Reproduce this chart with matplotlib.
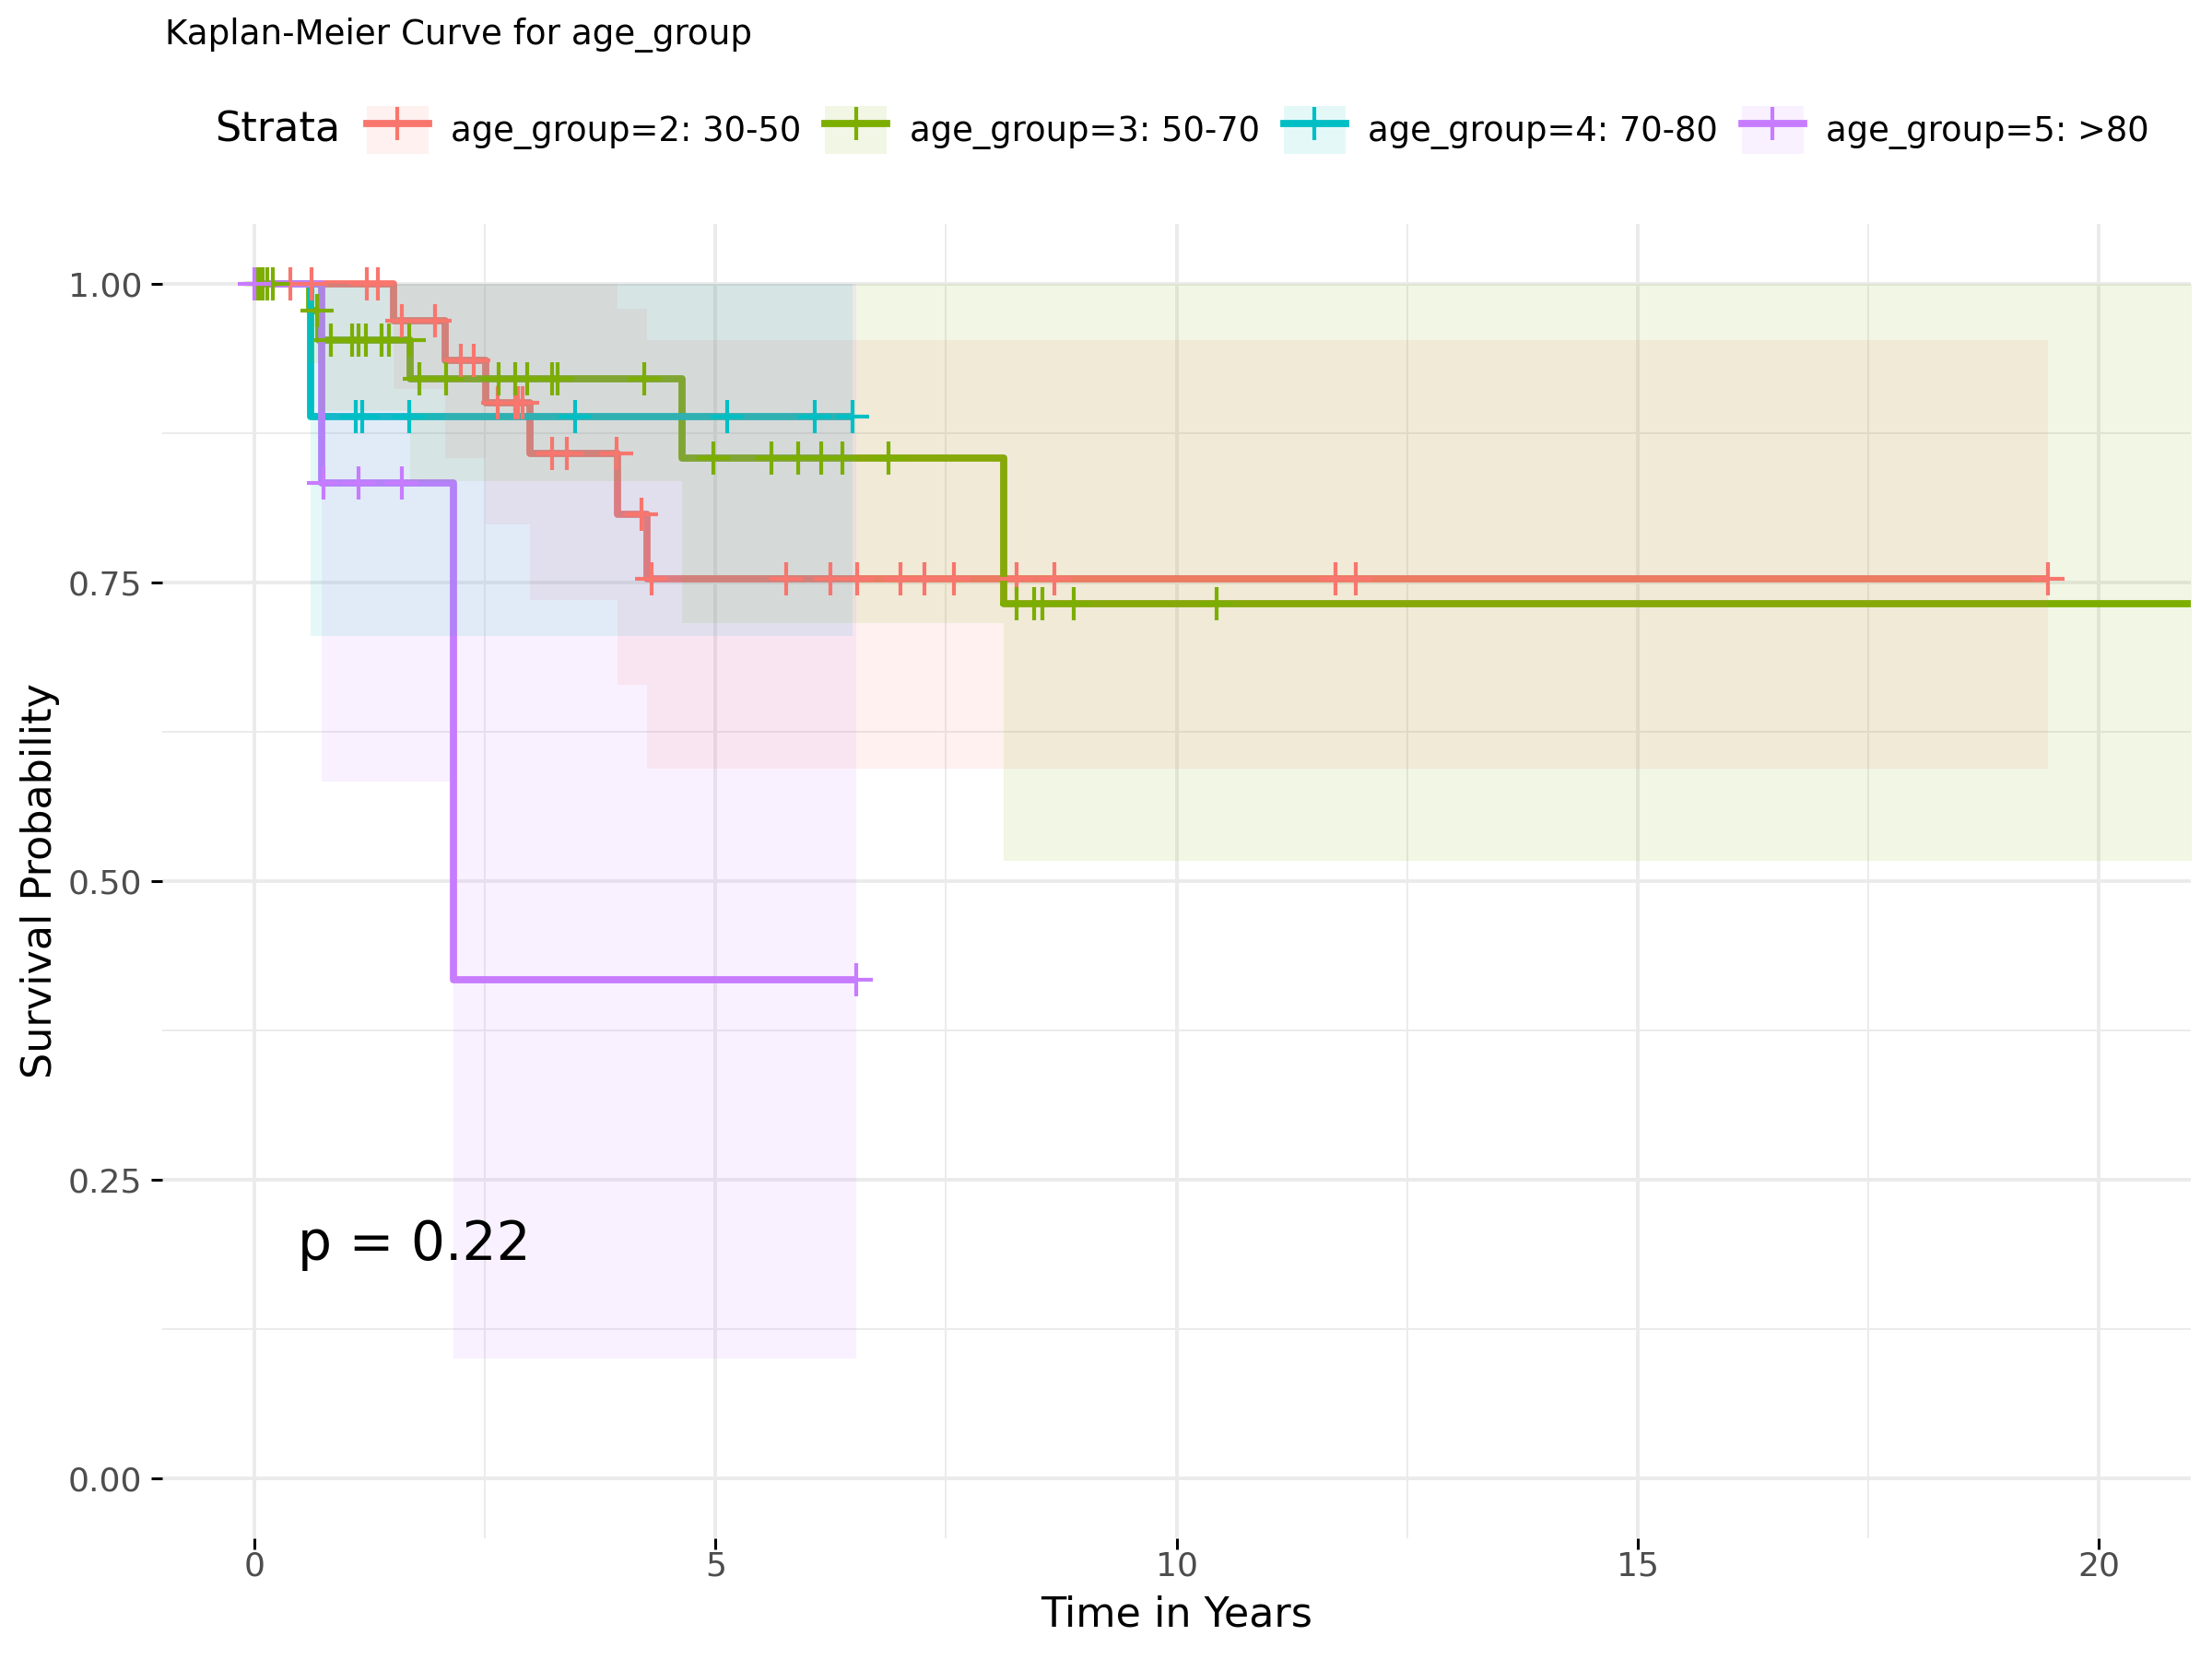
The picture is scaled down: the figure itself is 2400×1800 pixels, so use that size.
import matplotlib
matplotlib.use("Agg")
import numpy as np
import matplotlib.pyplot as plt
from matplotlib.lines import Line2D
from matplotlib.patches import Patch

# strata, colours (ggplot hue palette)
labels = ["age_group=2: 30-50", "age_group=3: 50-70", "age_group=4: 70-80", "age_group=5: >80"]
colors = ["#F8766D", "#7CAE00", "#00BFC4", "#C77CFF"]

# KM steps: times where the curve changes (last = end of follow-up), survival and 95% CI after each step
g2_time = [0.0, 1.51, 2.07, 2.51, 2.99, 3.94, 4.26, 19.45]
g2_surv = [1.0, 0.969, 0.936, 0.900, 0.858, 0.807, 0.753, 0.753]
g2_lower = [1.0, 0.912, 0.854, 0.798, 0.735, 0.664, 0.594, 0.594]
g2_upper = [1.0, 1.0, 1.0, 1.0, 1.0, 0.979, 0.953, 0.953]
g2_cens = [0.39, 0.62, 1.22, 1.34, 1.60, 1.96, 2.24, 2.38, 2.64, 2.83, 2.86, 2.91,
           3.23, 3.39, 3.93, 4.20, 4.31, 5.77, 6.25, 6.54, 7.01, 7.27, 7.59, 8.27,
           8.68, 11.72, 11.94, 19.45]

g3_time = [0.0, 0.60, 0.70, 1.685, 4.64, 8.125, 21.3]
g3_surv = [1.0, 0.977, 0.953, 0.920, 0.854, 0.732, 0.732]
g3_lower = [1.0, 0.933, 0.893, 0.835, 0.716, 0.517, 0.517]
g3_upper = [1.0, 1.0, 1.0, 1.0, 1.0, 1.0, 1.0]
g3_cens = [0.04, 0.07, 0.09, 0.14, 0.20, 0.675, 0.825, 1.06, 1.13, 1.21, 1.375, 1.46,
           1.675, 1.79, 2.08, 2.65, 2.825, 2.96, 3.23, 3.29, 4.23, 4.98, 5.61, 5.90,
           6.15, 6.38, 6.88, 8.27, 8.46, 8.55, 8.89, 10.43]

g4_time = [0.0, 0.61, 6.49]
g4_surv = [1.0, 0.889, 0.889]
g4_lower = [1.0, 0.705, 0.705]
g4_upper = [1.0, 1.0, 1.0]
g4_cens = [1.10, 1.165, 1.675, 3.475, 5.13, 6.08, 6.49]

g5_time = [0.0, 0.73, 2.16, 6.53]
g5_surv = [1.0, 0.833, 0.417, 0.417]
g5_lower = [1.0, 0.583, 0.100, 0.100]
g5_upper = [1.0, 1.0, 1.0, 1.0]
g5_cens = [0.0, 0.75, 1.13, 1.60, 6.53]

groups = [
    (g2_time, g2_surv, g2_lower, g2_upper, g2_cens),
    (g3_time, g3_surv, g3_lower, g3_upper, g3_cens),
    (g4_time, g4_surv, g4_lower, g4_upper, g4_cens),
    (g5_time, g5_surv, g5_lower, g5_upper, g5_cens),
]

pval = "p = 0.22"

LW = 2.8
MS = 13
MEW = 1.5
BAND_ALPHA = 0.1

fig = plt.figure(figsize=(12, 9), dpi=200)
ax = fig.add_axes([176 / 2400, 1 - 1668.8 / 1800, 2201 / 2400, 1426 / 1800])

for (t, s, lo, hi, cens), col in zip(groups, colors):
    t = np.asarray(t)
    s = np.asarray(s)
    ax.plot(t, s, drawstyle="steps-post", color=col, lw=LW, zorder=2,
            solid_joinstyle="round", solid_capstyle="butt")
    ax.fill_between(t, lo, hi, step="post", color=col, alpha=BAND_ALPHA, lw=0, zorder=3)
    ct = np.asarray(cens)
    cs = s[np.searchsorted(t, ct, side="right") - 1]
    ax.plot(ct, cs, ls="none", marker="+", ms=MS, mew=MEW, color=col, zorder=4)

ax.set_xlim(-1, 21)
ax.set_ylim(-0.05, 1.05)
ax.set_xticks([0, 5, 10, 15, 20])
ax.set_xticks([2.5, 7.5, 12.5, 17.5], minor=True)
ax.set_yticks([0, 0.25, 0.5, 0.75, 1.0])
ax.set_yticklabels(["0.00", "0.25", "0.50", "0.75", "1.00"])
ax.set_yticks([0.125, 0.375, 0.625, 0.875], minor=True)
ax.grid(which="major", color="#EBEBEB", lw=1.42, zorder=0)
ax.grid(which="minor", color="#EBEBEB", lw=0.71, zorder=0)
ax.set_axisbelow(True)
for sp in ax.spines.values():
    sp.set_visible(False)
ax.tick_params(which="major", direction="out", length=4.2, width=1.1, color="black",
               labelsize=13.0, labelcolor="#4D4D4D")
ax.tick_params(axis="x", pad=0.8)
ax.tick_params(axis="y", pad=3.6)
ax.tick_params(which="minor", length=0)

ax.set_xlabel("Time in Years", fontsize=16, va="center")
ax.xaxis.set_label_coords(0.5, -0.0583)
ax.set_ylabel("Survival Probability", fontsize=16, va="center")
ax.yaxis.set_label_coords(-0.0604, 0.5)

ax.text(0.465, 0.183, pval, fontsize=21, ha="left", va="baseline", zorder=5)

# title and top legend
fig.text(179 / 2400, 1 - 38 / 1800, "Kaplan-Meier Curve for age_group", fontsize=13.4,
         ha="left", va="center")
fig.text(233 / 2400, 0.9217, "Strata", fontsize=16, ha="left", va="center")
handles = []
for col in colors:
    box = Patch(facecolor=matplotlib.colors.to_rgba(col, BAND_ALPHA), edgecolor="none")
    key = Line2D([], [], color=col, lw=LW, marker="+", ms=MS, mew=MEW)
    handles.append((box, key))
fig.legend(handles, labels, loc="center left", bbox_to_anchor=(398 / 2400, 0.9217),
           ncol=4, frameon=False, fontsize=13.3, handlelength=1.81, handleheight=1.81,
           handletextpad=0.66, columnspacing=0.70, borderpad=0, borderaxespad=0)

fig.savefig("out.png", dpi=200)
